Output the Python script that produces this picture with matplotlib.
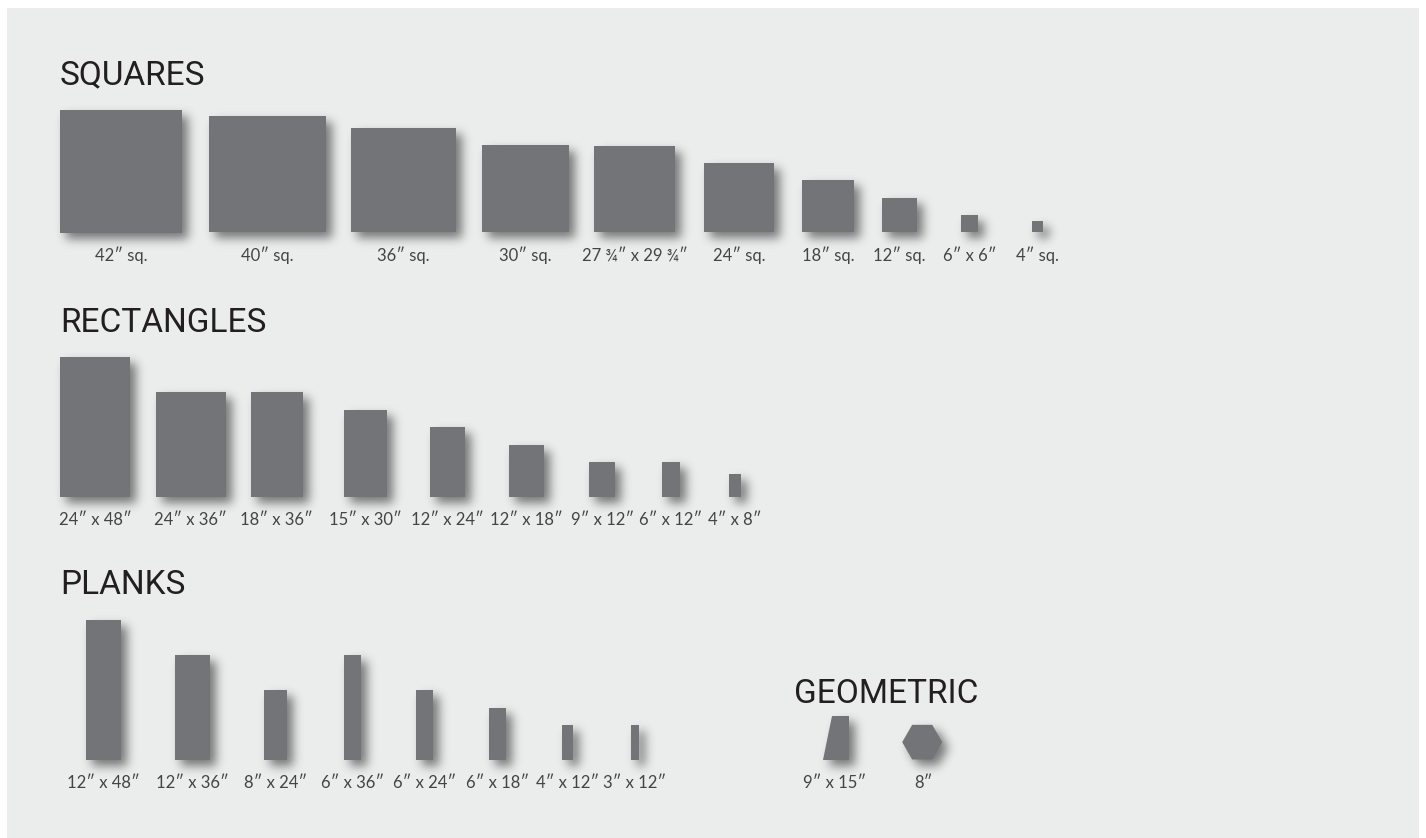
import numpy as np
import matplotlib
matplotlib.use("Agg")
import matplotlib.pyplot as plt
from matplotlib.patches import Rectangle, Polygon, RegularPolygon

# ---------------------------------------------------------------
# Data: tile sizes in inches (width, height) and their captions
# ---------------------------------------------------------------
SQUARE_LABELS = ['42″ sq.', '40″ sq.', '36″ sq.', '30″ sq.', '27 ¾″ x 29 ¾″',
                 '24″ sq.', '18″ sq.', '12″ sq.', '6″ x 6″', '4″ sq.']
SQUARE_W = [42, 40, 36, 30, 27.75, 24, 18, 12, 6, 4]
SQUARE_H = [42, 40, 36, 30, 29.75, 24, 18, 12, 6, 4]

RECT_LABELS = ['24″ x 48″', '24″ x 36″', '18″ x 36″', '15″ x 30″', '12″ x 24″',
               '12″ x 18″', '9″ x 12″', '6″ x 12″', '4″ x 8″']
RECT_W = [24, 24, 18, 15, 12, 12, 9, 6, 4]
RECT_H = [48, 36, 36, 30, 24, 18, 12, 12, 8]

PLANK_LABELS = ['12″ x 48″', '12″ x 36″', '8″ x 24″', '6″ x 36″', '6″ x 24″',
                '6″ x 18″', '4″ x 12″', '3″ x 12″']
PLANK_W = [12, 12, 8, 6, 6, 6, 4, 3]
PLANK_H = [48, 36, 24, 36, 24, 18, 12, 12]

GEO_LABELS = ['9″ x 15″', '8″']
TRAP_SIZE = (9, 15)   # bottom width, height
HEX_SIZE = 8

# ---------------------------------------------------------------
# Layout (pixels)
# ---------------------------------------------------------------
W, H = 1426, 838
SCALE = 2.91          # pixels per inch
TILE = '#737478'
PANEL = '#ebedec'
HEAD_COLOR = '#231f20'
LABEL_COLOR = '#444444'

ROWS = [
    # title, title baseline, start x, shape baseline, gaps between tiles
    ('SQUARES', 84, 60, 232.5, [27, 25.5, 26, 25, 29, 28, 27.5, 44, 53.5]),
    ('RECTANGLES', 332, 60, 497, [26, 25, 40.5, 43, 44, 45, 47, 49.5]),
    ('PLANKS', 594, 86, 760, [54, 54, 56.5, 54.5, 55.5, 55.5, 57.5]),
]


def gauss_blur(a, sigma):
    r = int(3 * sigma)
    x = np.arange(-r, r + 1)
    k = np.exp(-x ** 2 / (2.0 * sigma ** 2))
    k /= k.sum()
    a = np.apply_along_axis(lambda m: np.convolve(m, k, mode='same'), 0, a)
    a = np.apply_along_axis(lambda m: np.convolve(m, k, mode='same'), 1, a)
    return a


class DropShadow:
    def __init__(self, sigma=5.0, ox=6, oy=6, alpha=0.5):
        self.sigma, self.ox, self.oy, self.alpha = sigma, ox, oy, alpha

    def __call__(self, im, dpi):
        pad = int(3 * self.sigma + max(self.ox, self.oy)) + 2
        p = np.pad(im, ((pad, pad), (pad, pad), (0, 0)))
        a = np.roll(p[..., 3], self.ox, axis=1)
        a = np.roll(a, self.oy, axis=0)
        a = gauss_blur(a, self.sigma)
        out = np.zeros_like(p)
        out[..., 3] = np.clip(a * self.alpha, 0, 1)
        return out, -pad, -pad


def add_tile(ax, patch_fn):
    shadow = patch_fn()
    shadow.set_facecolor('black')
    shadow.set_agg_filter(DropShadow())
    shadow.set_zorder(2)
    ax.add_patch(shadow)
    tile = patch_fn()
    tile.set_facecolor(TILE)
    tile.set_zorder(3)
    ax.add_patch(tile)


def add_label(ax, x, y, text):
    ax.text(x, y, text, ha='center', va='center', fontsize=12,
            family=['Lato', 'DejaVu Sans'], fontweight='normal',
            color=LABEL_COLOR, zorder=4)


def add_title(ax, x, y, text):
    ax.text(x, y, text, ha='left', va='baseline', fontsize=24,
            family=['Roboto', 'DejaVu Sans'], color=HEAD_COLOR, zorder=4)


def main():
    fig = plt.figure(figsize=(W / 100, H / 100), dpi=100, facecolor='white')
    ax = fig.add_axes([0, 0, 1, 1])
    ax.set_xlim(0, W)
    ax.set_ylim(H, 0)
    ax.axis('off')

    ax.add_patch(Rectangle((7, 8), W - 14, H, facecolor=PANEL,
                           edgecolor='none', zorder=0))

    data = [(SQUARE_LABELS, SQUARE_W, SQUARE_H),
            (RECT_LABELS, RECT_W, RECT_H),
            (PLANK_LABELS, PLANK_W, PLANK_H)]

    for (title, ty, x0, base, gaps), (labels, ws, hs) in zip(ROWS, data):
        add_title(ax, 60, ty, title)
        x = x0
        for i, (lab, w, h) in enumerate(zip(labels, ws, hs)):
            pw, ph = w * SCALE, h * SCALE
            add_tile(ax, lambda x=x, pw=pw, ph=ph: Rectangle(
                (x, base - ph), pw, ph, edgecolor='none'))
            add_label(ax, x + pw / 2, base + 23, lab)
            if i < len(gaps):
                x = x + pw + gaps[i]

    # Geometric group
    add_title(ax, 794, 703, 'GEOMETRIC')
    gbase = 759.5
    tw, th = TRAP_SIZE[0] * SCALE, TRAP_SIZE[1] * SCALE
    top_w = tw * 2 / 3
    tx = 823
    trap = [(tx, gbase), (tx + tw, gbase), (tx + tw, gbase - th),
            (tx + tw - top_w, gbase - th)]
    add_tile(ax, lambda: Polygon(trap, closed=True, edgecolor='none'))
    add_label(ax, 835, gbase + 23, GEO_LABELS[0])

    hex_r = HEX_SIZE * SCALE * 0.86
    hx = tx + tw + 53 + hex_r
    hy = gbase - hex_r * np.sqrt(3) / 2
    add_tile(ax, lambda: RegularPolygon((hx, hy), 6, radius=hex_r,
                                        orientation=np.pi / 6,
                                        edgecolor='none'))
    add_label(ax, hx + 1, gbase + 23, GEO_LABELS[1])

    fig.savefig('out.png', dpi=100, facecolor='white')
    plt.close(fig)


if __name__ == '__main__':
    main()
